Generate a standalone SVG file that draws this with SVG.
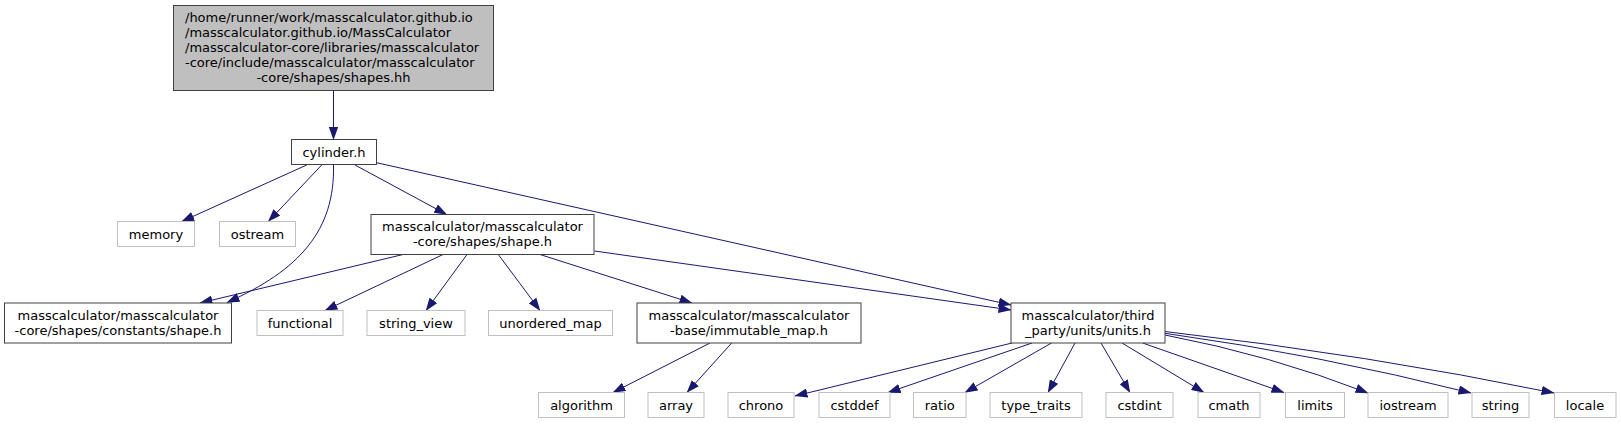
<svg xmlns="http://www.w3.org/2000/svg" width="1621" height="424" viewBox="0 0 1621 424">
<style>
text{font-family:"DejaVu Sans","Liberation Sans",sans-serif;font-size:13px;fill:#000;text-anchor:middle}
.n rect{fill:#fff;stroke:#404040;stroke-width:1}
.x rect{fill:#fff;stroke:#bfbfbf;stroke-width:1}
.root rect{fill:#bfbfbf;stroke:#404040;stroke-width:1}
#edges path{fill:none;stroke:#191970;stroke-width:1;marker-end:url(#ah)}
</style>
<defs>
<marker id="ah" viewBox="0 0 13 9.4" refX="12.5" refY="4.7" markerWidth="13" markerHeight="9.4" markerUnits="userSpaceOnUse" orient="auto">
<path d="M0,0 L13,4.7 L0,9.4 z" fill="#191970"/>
</marker>
</defs>
<rect width="1621" height="424" fill="#fff"/>
<g id="edges">
<path d="M333.5,90.5 L333.5,139.5"/>
<path d="M306.7,165 L181.7,221.5"/>
<path d="M321.7,165 L268.3,221.5"/>
<path d="M333.5,165 C335,230 300,270 227,302.5"/>
<path d="M355,165 L446.7,214.5"/>
<path d="M376.5,162.7 L1011,305"/>
<path d="M403,254.5 L200,303"/>
<path d="M443,254.5 L325,310.5"/>
<path d="M467,254.5 L426,310.5"/>
<path d="M498.3,254.5 L540,310.5"/>
<path d="M540,254.5 L692,303"/>
<path d="M594.5,251 L1011,310"/>
<path d="M710,343 L613,392.5"/>
<path d="M731.7,343 L687,392.5"/>
<path d="M1012,343 L795,396"/>
<path d="M1032,343 L888,392.5"/>
<path d="M1051.5,343 L965,392.5"/>
<path d="M1075,343 L1048,392.5"/>
<path d="M1101,343 L1130,392.5"/>
<path d="M1122,343 L1204,392.5"/>
<path d="M1142.6,343 L1284,392.5"/>
<path d="M1165,335 Q1270,355 1368,393"/>
<path d="M1165,333.3 Q1320,355 1471,393"/>
<path d="M1165,331.5 Q1370,355 1554,393"/>
</g>
<g id="node-root" class="root">
<rect x="173.5" y="5.5" width="320" height="85"/>
<text x="185" y="22" style="text-anchor:start">/home/runner/work/masscalculator.github.io</text>
<text x="185" y="37" style="text-anchor:start">/masscalculator.github.io/MassCalculator</text>
<text x="185" y="52" style="text-anchor:start">/masscalculator-core/libraries/masscalculator</text>
<text x="185" y="67" style="text-anchor:start">-core/include/masscalculator/masscalculator</text>
<text x="333.5" y="82">-core/shapes/shapes.hh</text>
</g>
<g id="node-cylinder" class="n">
<rect x="291.5" y="139.5" width="85" height="25"/>
<text x="334" y="156.5">cylinder.h</text>
</g>
<g id="node-memory" class="x">
<rect x="117.5" y="221.5" width="77" height="25"/>
<text x="156" y="238.5">memory</text>
</g>
<g id="node-ostream" class="x">
<rect x="219.5" y="221.5" width="76" height="25"/>
<text x="257.5" y="238.5">ostream</text>
</g>
<g id="node-shape" class="n">
<rect x="371" y="214.5" width="223" height="40"/>
<text x="482.5" y="231">masscalculator/masscalculator</text>
<text x="482.5" y="246">-core/shapes/shape.h</text>
</g>
<g id="node-constants" class="n">
<rect x="4.5" y="303" width="227" height="40"/>
<text x="118" y="319.5">masscalculator/masscalculator</text>
<text x="118" y="334.5">-core/shapes/constants/shape.h</text>
</g>
<g id="node-functional" class="x">
<rect x="257" y="310.5" width="86" height="25"/>
<text x="300" y="327.5">functional</text>
</g>
<g id="node-string_view" class="x">
<rect x="367" y="310.5" width="98" height="25"/>
<text x="416" y="327.5">string_view</text>
</g>
<g id="node-unordered_map" class="x">
<rect x="488.5" y="310.5" width="124" height="25"/>
<text x="550.5" y="327.5">unordered_map</text>
</g>
<g id="node-immutable_map" class="n">
<rect x="637" y="303" width="224" height="40"/>
<text x="749" y="319.5">masscalculator/masscalculator</text>
<text x="749" y="334.5">-base/immutable_map.h</text>
</g>
<g id="node-units" class="n">
<rect x="1011" y="303" width="154" height="40"/>
<text x="1088" y="319.5">masscalculator/third</text>
<text x="1088" y="334.5">_party/units/units.h</text>
</g>
<g id="node-algorithm" class="x">
<rect x="538.5" y="392.5" width="86" height="25"/>
<text x="581.5" y="409.5">algorithm</text>
</g>
<g id="node-array" class="x">
<rect x="648" y="392.5" width="56" height="25"/>
<text x="676" y="409.5">array</text>
</g>
<g id="node-chrono" class="x">
<rect x="728" y="392.5" width="66" height="25"/>
<text x="761" y="409.5">chrono</text>
</g>
<g id="node-cstddef" class="x">
<rect x="819" y="392.5" width="71" height="25"/>
<text x="854.5" y="409.5">cstddef</text>
</g>
<g id="node-ratio" class="x">
<rect x="913.5" y="392.5" width="52.5" height="25"/>
<text x="939.75" y="409.5">ratio</text>
</g>
<g id="node-type_traits" class="x">
<rect x="990" y="392.5" width="92" height="25"/>
<text x="1036" y="409.5">type_traits</text>
</g>
<g id="node-cstdint" class="x">
<rect x="1106" y="392.5" width="67" height="25"/>
<text x="1139.5" y="409.5">cstdint</text>
</g>
<g id="node-cmath" class="x">
<rect x="1198" y="392.5" width="62" height="25"/>
<text x="1229" y="409.5">cmath</text>
</g>
<g id="node-limits" class="x">
<rect x="1285.5" y="392.5" width="59" height="25"/>
<text x="1315" y="409.5">limits</text>
</g>
<g id="node-iostream" class="x">
<rect x="1368" y="392.5" width="80" height="25"/>
<text x="1408" y="409.5">iostream</text>
</g>
<g id="node-string" class="x">
<rect x="1472" y="392.5" width="57" height="25"/>
<text x="1500.5" y="409.5">string</text>
</g>
<g id="node-locale" class="x">
<rect x="1554.5" y="392.5" width="61.5" height="25"/>
<text x="1585" y="409.5">locale</text>
</g>
</svg>
